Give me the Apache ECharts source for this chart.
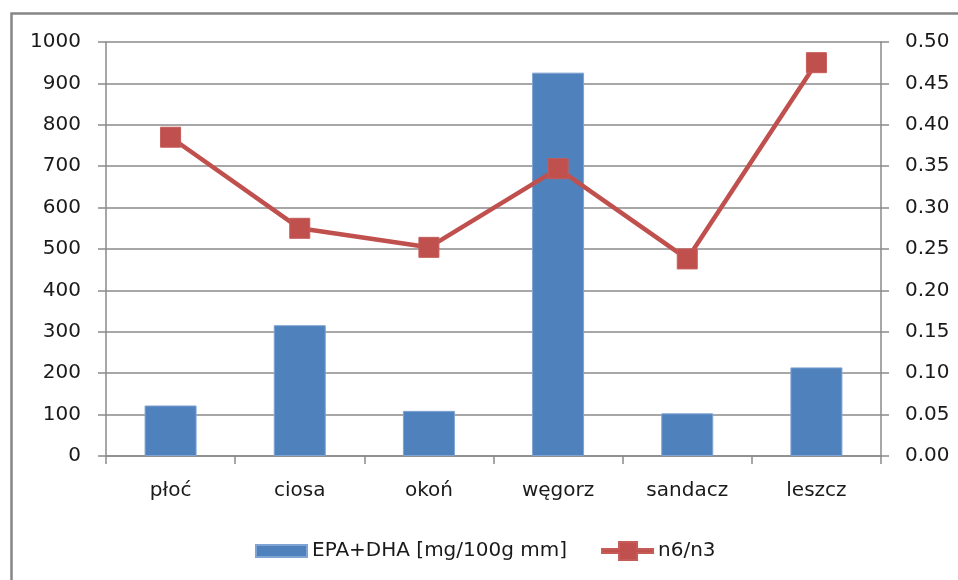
<!DOCTYPE html>
<html>
<head>
<meta charset="utf-8">
<script src="https://cdn.jsdelivr.net/npm/echarts@6/dist/echarts.min.js"></script>
<style>html,body{margin:0;padding:0;background:#fff}#c{width:958px;height:580px}</style>
</head>
<body>
<div id="c"></div>
<script>
const categories = ['płoć', 'ciosa', 'okoń', 'węgorz', 'sandacz', 'leszcz'];
const epaDha = [122, 316, 109, 926, 103, 214];
const n6n3 = [0.385, 0.275, 0.252, 0.347, 0.238, 0.475];
const leftTicks = {min: 0, max: 1000, interval: 100};
const rightTicks = {min: 0, max: 0.5, interval: 0.05};

const FONT = 'DejaVu Sans';
const GRAY = '#8a8a8a';
const chart = echarts.init(document.getElementById('c'), null, {renderer: 'canvas'});
chart.setOption({
  animation: false,
  backgroundColor: '#fff',
  textStyle: {fontFamily: FONT},
  graphic: [{
    type: 'rect', left: 9, top: 11, silent: true,
    shape: {x: 0, y: 0, width: 1000, height: 600},
    style: {fill: 'none', stroke: '#868686', lineWidth: 2.5}
  }],
  grid: {left: 106, right: 77, top: 42, bottom: 124},
  legend: {
    left: 250, top: 536,
    itemWidth: 51, itemHeight: 18, itemGap: 34,
    symbolKeepAspect: true,
    textStyle: {fontFamily: FONT, fontSize: 20, color: '#1a1a1a'},
    data: [
      {name: 'EPA+DHA [mg/100g mm]', icon: 'path://M0,0 L51,0 L51,12 L0,12 Z'},
      {name: 'n6/n3', icon: 'path://M0,7 L17,7 L17,0 L35,0 L35,7 L51,7 L51,11 L35,11 L35,18 L17,18 L17,11 L0,11 Z'}
    ]
  },
  xAxis: {
    type: 'category', data: categories,
    axisLine: {lineStyle: {color: GRAY, width: 1.5}},
    axisTick: {show: true, length: 8, alignWithLabel: false, lineStyle: {color: GRAY, width: 1.5}},
    axisLabel: {fontFamily: FONT, fontSize: 20, color: '#1a1a1a', margin: 25}
  },
  yAxis: [{
    type: 'value', min: leftTicks.min, max: leftTicks.max, interval: leftTicks.interval,
    axisLine: {show: true, lineStyle: {color: GRAY, width: 1.5}},
    axisTick: {show: true, length: 8, lineStyle: {color: GRAY, width: 1.5}},
    splitLine: {show: true, lineStyle: {color: GRAY, width: 1.5}},
    axisLabel: {fontFamily: FONT, fontSize: 20, color: '#1a1a1a', margin: 25,
      formatter: v => String(v)}
  }, {
    type: 'value', min: rightTicks.min, max: rightTicks.max, interval: rightTicks.interval,
    axisLine: {show: true, lineStyle: {color: GRAY, width: 1.5}},
    axisTick: {show: true, length: 8, lineStyle: {color: GRAY, width: 1.5}},
    splitLine: {show: false},
    axisLabel: {fontFamily: FONT, fontSize: 20, color: '#1a1a1a', margin: 24,
      formatter: v => v.toFixed(2)}
  }],
  series: [{
    name: 'EPA+DHA [mg/100g mm]', type: 'bar', data: epaDha, yAxisIndex: 0,
    barWidth: 52,
    itemStyle: {color: '#4F81BD', borderColor: '#7fa3d3', borderWidth: 1}
  }, {
    name: 'n6/n3', type: 'line', data: n6n3, yAxisIndex: 1,
    symbol: 'rect', symbolSize: 20,
    lineStyle: {color: '#C0504D', width: 4.5},
    itemStyle: {color: '#C0504D', borderColor: '#c65b58', borderWidth: 1}
  }]
});
</script>
</body>
</html>
